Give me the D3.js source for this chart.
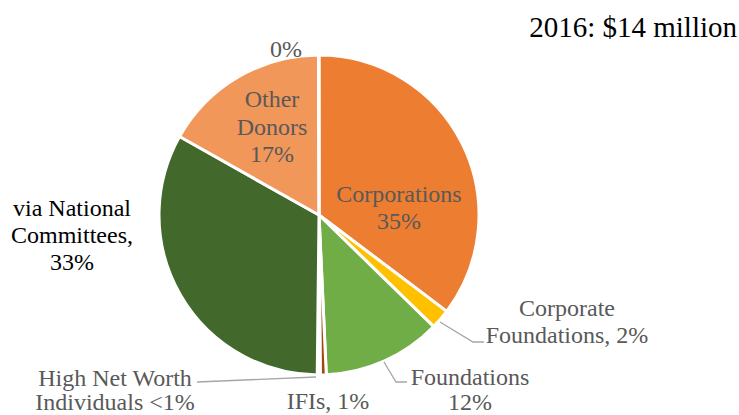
<!DOCTYPE html>
<html><head><meta charset="utf-8">
<script src="https://cdn.jsdelivr.net/npm/d3@7"></script>
<style>body{margin:0;background:#fff}svg{display:block}</style>
</head><body>
<script>
const categories = ["Corporations","Corporate Foundations","Foundations","IFIs","High Net Worth Individuals","via National Committees","Other Donors","Other"];
const values = [35.3, 2.0, 12.0, 0.6, 0.3, 33.0, 16.8, 0.05];
const labelTexts = [["Corporations","35%"],["Corporate","Foundations, 2%"],["Foundations","12%"],["IFIs, 1%"],["High Net Worth","Individuals <1%"],["via National","Committees,","33%"],["Other","Donors","17%"],["0%"]];
const colors = ["#ED7D31","#FFC000","#70AD47","#9E480E","#A5A5A5","#43682B","#F1975A","#F8CBAD"];
const title = "2016: $14 million";

const FONT = "Liberation Serif";
const W=739,H=415, cx=319, cy=215, R=160;
const svg=d3.select("body").append("svg").attr("width",W).attr("height",H);
const g=svg.append("g").attr("transform",`translate(${cx},${cy})`);
const pie=d3.pie().sort(null).value(d=>d)(values);
const arc=d3.arc().innerRadius(0).outerRadius(R);
g.selectAll("path").data(pie).join("path")
  .attr("d",arc).attr("fill",(d,i)=>colors[i])
  .attr("stroke","#fff").attr("stroke-width",3).attr("stroke-linejoin","round");

svg.append("text").attr("x",737).attr("y",37).attr("text-anchor","end")
  .attr("font-family",FONT).attr("font-size",29).attr("fill","#000").text(title);

// text block layout: center x, first baseline y, line spacing
const layout=[
  {x:399,y:202,lh:27,c:"#595959"},
  {x:567,y:316,lh:27,c:"#595959"},
  {x:470,y:385,lh:25,c:"#595959"},
  {x:328,y:409,lh:0,c:"#595959"},
  {x:115,y:386,lh:24,c:"#595959"},
  {x:72,y:216,lh:27,c:"#000"},
  {x:272,y:107,lh:27.5,c:"#595959"},
  {x:286,y:57,lh:0,c:"#595959"}
];
labelTexts.forEach((lines,i)=>{
  const L=layout[i];
  lines.forEach((s,j)=>svg.append("text").attr("text-anchor","middle")
    .attr("font-family",FONT).attr("font-size",24).attr("fill",L.c)
    .attr("x",L.x).attr("y",L.y+j*L.lh).text(s));
});
const lead=[
  [[440,322],[473,342],[484,342]],
  [[384,362],[396,382],[407,382]],
  [[316,377],[197,382]]
];
const line=d3.line();
lead.forEach(p=>svg.append("path").attr("d",line(p)).attr("fill","none").attr("stroke","#A6A6A6").attr("stroke-width",1.3));
</script>
</body></html>
